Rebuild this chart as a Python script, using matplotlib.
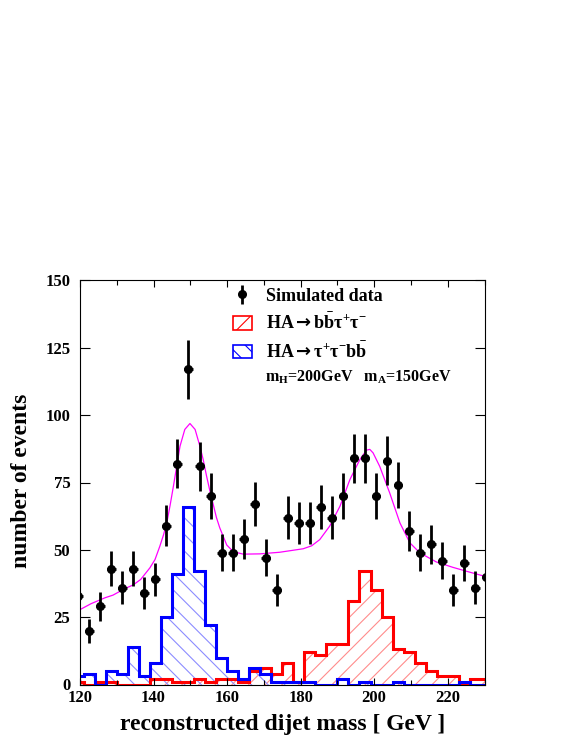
import numpy as np
import matplotlib
matplotlib.use("Agg")
import matplotlib.pyplot as plt
from matplotlib.patches import Patch
from matplotlib.container import ErrorbarContainer
from matplotlib.legend_handler import HandlerErrorbar

plt.rcParams['font.family'] = ['Liberation Serif', 'DejaVu Serif']
plt.rcParams['font.weight'] = 'bold'
plt.rcParams['mathtext.fontset'] = 'custom'
plt.rcParams['mathtext.rm'] = 'Liberation Serif:bold'
plt.rcParams['mathtext.bf'] = 'Liberation Serif:bold'
plt.rcParams['mathtext.it'] = 'Liberation Serif:bold:italic'
plt.rcParams['mathtext.sf'] = 'DejaVu Sans'
plt.rcParams['mathtext.default'] = 'bf'
plt.rcParams['hatch.linewidth'] = 0.8

# 3 GeV bins, first edge at 118 GeV
bin_edges = np.arange(118, 233, 3)

# simulated data (counts per bin)
data_counts = [33, 20, 29, 43, 36, 43, 34, 39, 59, 82,
               117, 81, 70, 49, 49, 54, 67, 47, 35, 62,
               60, 60, 66, 62, 70, 84, 84, 70, 83, 74,
               57, 49, 52, 46, 35, 45, 36, 40]

# HA -> bb tau tau  (H peak, red)
red_counts = [1, 0, 1, 1, 0, 0, 0, 2, 2, 1,
              1, 2, 1, 2, 2, 1, 5, 6, 4, 8,
              1, 12, 11, 15, 15, 31, 42, 35, 25, 13,
              12, 8, 5, 3, 3, 0, 2, 2]

# HA -> tau tau bb  (A peak, blue)
blue_counts = [3, 4, 0, 5, 4, 14, 3, 8, 25, 41,
               66, 42, 22, 10, 5, 2, 6, 4, 1, 1,
               1, 1, 0, 0, 2, 0, 1, 0, 0, 1,
               0, 0, 0, 0, 0, 1, 0, 0]

# fit curve
fit_x = [120.0, 123.0, 126.8, 129.0, 132.2, 134.5, 136.5, 139.0, 140.4, 141.7,
         142.7, 143.6, 144.5, 145.4, 146.3, 147.2, 148.5, 149.9, 151.3, 152.6,
         153.5, 154.4, 155.3, 156.2, 157.1, 158.0, 159.9, 161.7, 164.4, 168.9,
         174.3, 180.7, 183.0, 185.2, 187.9, 190.7, 193.4, 196.1, 197.9, 198.8,
         199.7, 201.5, 204.2, 207.0, 209.7, 212.4, 216.9, 221.4, 226.0, 230.0]
fit_y = [27.8, 30.0, 32.2, 33.2, 35.6, 37.0, 39.0, 43.3, 46.4, 51.3,
         55.5, 60.0, 66.5, 73.6, 81.0, 88.5, 94.7, 96.9, 94.7, 88.5,
         83.5, 77.5, 72.0, 67.0, 62.0, 58.2, 51.8, 49.3, 48.4, 48.5,
         49.1, 50.4, 51.5, 53.8, 58.8, 66.2, 76.1, 83.5, 87.0, 87.3,
         86.0, 81.0, 71.2, 60.0, 52.6, 48.9, 45.5, 43.5, 41.7, 40.2]

centers = bin_edges[:-1] + 1.5
data_counts = np.array(data_counts)

fig = plt.figure(figsize=(5.81, 7.52), dpi=100)
ax = fig.add_axes([80 / 581, 1 - 684.5 / 752, 404.5 / 581, 404 / 752])

# hatched fills
ax.stairs(red_counts, bin_edges, fill=True, facecolor='none', edgecolor='#ff8c8c',
          hatch='//', linewidth=0)
ax.stairs(blue_counts, bin_edges, fill=True, facecolor='none', edgecolor='#8c8cff',
          hatch='\\\\', linewidth=0)
# outlines
ax.stairs(red_counts, bin_edges, color='#ff0000', linewidth=2.2)
ax.stairs(blue_counts, bin_edges, color='#0000ff', linewidth=2.2)

ax.plot(fit_x, fit_y, color='#ff00ff', linewidth=0.9)

data = ax.errorbar(centers, data_counts, yerr=np.sqrt(data_counts), xerr=1.2,
                   fmt='o', color='black', markersize=5.5, elinewidth=2.0,
                   capsize=0, label='Simulated data')

red_patch = Patch(facecolor='white', edgecolor='#ff0000', hatch='//', linewidth=1.2,
                  label=r'HA$\mathsf{\rightarrow}$b$\bar{b}\tau^{+}\tau^{-}$')
blue_patch = Patch(facecolor='white', edgecolor='#0000ff', hatch='\\\\', linewidth=1.2,
                   label=r'HA$\mathsf{\rightarrow}\tau^{+}\tau^{-}$b$\bar{b}$')

leg = ax.legend(handles=[data, red_patch, blue_patch], loc='upper left',
                bbox_to_anchor=(0.338, 1.022), frameon=False, fontsize=13,
                handlelength=1.05, handleheight=0.8, handletextpad=0.8,
                labelspacing=0.45,
                handler_map={ErrorbarContainer: HandlerErrorbar(xerr_size=0, yerr_size=0.55)})

ax.text(0.457, 0.76, r'm$_{H}$=200GeV   m$_{A}$=150GeV', transform=ax.transAxes,
        fontsize=11.5, ha='left', va='center')

ax.set_xlim(120, 230)
ax.set_ylim(0, 150)
ax.set_xticks(np.arange(120, 231, 20))
ax.set_xticks(np.arange(120, 231, 10), minor=True)
ax.set_yticks(np.arange(0, 151, 25))
ax.tick_params(axis='x', which='both', direction='in', top=True, labelsize=12, pad=4)
ax.tick_params(axis='x', which='major', length=5, width=0.8)
ax.tick_params(axis='x', which='minor', length=3.5, width=0.8)
ax.tick_params(axis='y', which='major', direction='in', right=True, length=7,
               width=0.8, labelsize=12, pad=7)
for s in ax.spines.values():
    s.set_linewidth(0.8)

ax.set_xlabel('reconstructed dijet mass [ GeV ]', fontsize=17, fontweight='bold')
ax.xaxis.set_label_coords(0.5, -0.072)
ax.set_ylabel('number of events', fontsize=17, fontweight='bold')
ax.yaxis.set_label_coords(-0.118, 0.505)

fig.savefig('out.png', dpi=100)
